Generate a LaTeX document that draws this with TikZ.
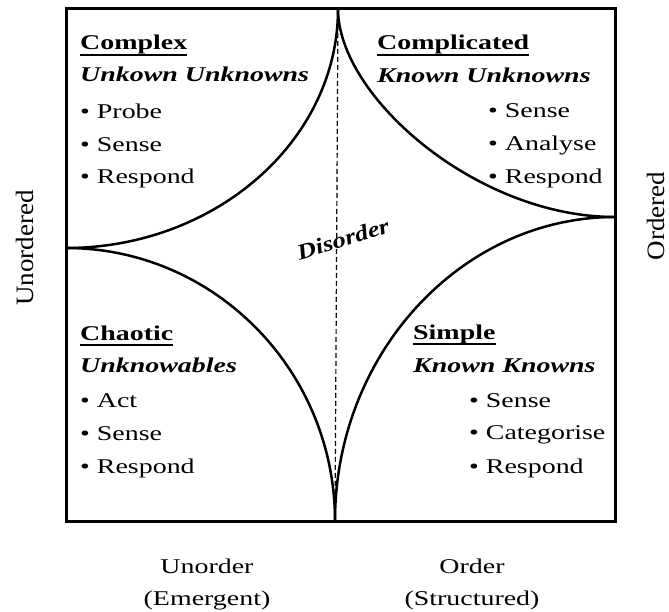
\documentclass[tikz,border=0pt]{standalone}
\usepackage{fontspec}
\setmainfont{Liberation Serif}[FakeStretch=1.33]
\newfontfamily\sidefont{Liberation Serif}[FakeStretch=1.08]
\newfontfamily\disfont{Liberation Serif}[FakeStretch=1.2]
\begin{document}
\begin{tikzpicture}[x=1pt,y=-1pt,
  txt/.style={inner sep=0pt, anchor=base west, font=\fontsize{21}{25}\selectfont},
  head/.style={txt, font=\fontsize{21}{25}\selectfont\bfseries},
  sub/.style={txt, font=\fontsize{21}{25}\selectfont\bfseries\itshape},
  axlab/.style={inner sep=0pt, anchor=base, font=\fontsize{21}{25}\selectfont},
  sidelab/.style={inner sep=0pt, anchor=base, rotate=90, font=\sidefont\fontsize{25}{30}\selectfont},
  frame/.style={line width=3pt},
  curve/.style={line width=2.5pt},
  uline/.style={line width=2.4pt},
  divider/.style={line width=1.2pt, dash pattern=on 5pt off 3pt}]
\useasboundingbox (0,0) rectangle (669,612);

% frame
\draw[frame] (66,9) rectangle (615,521);

% cusps
\coordinate (T) at (338,9);
\coordinate (L) at (66,248);
\coordinate (R) at (615,217);
\coordinate (B) at (335,521);

% dashed divider
\draw[divider] (T) -- (B);

% boundary curves
\draw[curve] (T) .. controls (338,141) and (215,248) .. (L);
\draw[curve] (T) .. controls (338,96) and (476,217) .. (R);
\draw[curve] (L) .. controls (215,248) and (335,371) .. (B);
\draw[curve] (R) .. controls (461,217) and (335,354) .. (B);

% Complex
\node[head] (cx) at (80,50) {Complex};
\draw[uline] ([yshift=-5pt]cx.base west) -- ([yshift=-5pt]cx.base east);
\node[sub] (cxs) at (80,82) {Unkown Unknowns};
\node[txt] (cx1) at (80,119) {\textbullet\ Probe};
\node[txt] (cx2) at (80,152) {\textbullet\ Sense};
\node[txt] (cx3) at (80,184) {\textbullet\ Respond};

% Complicated
\node[head] (cd) at (377,50) {Complicated};
\draw[uline] ([yshift=-5pt]cd.base west) -- ([yshift=-5pt]cd.base east);
\node[sub] (cds) at (377,83) {Known Unknowns};
\node[txt] (cd1) at (488,118) {\textbullet\ Sense};
\node[txt] (cd2) at (488,151) {\textbullet\ Analyse};
\node[txt] (cd3) at (488,184) {\textbullet\ Respond};

% Chaotic
\node[head] (ch) at (80,340) {Chaotic};
\draw[uline] ([yshift=-5pt]ch.base west) -- ([yshift=-5pt]ch.base east);
\node[sub] (chs) at (80,372) {Unknowables};
\node[txt] (ch1) at (80,407) {\textbullet\ Act};
\node[txt] (ch2) at (80,440) {\textbullet\ Sense};
\node[txt] (ch3) at (80,473) {\textbullet\ Respond};

% Simple
\node[head] (sp) at (413,339) {Simple};
\draw[uline] ([yshift=-5pt]sp.base west) -- ([yshift=-5pt]sp.base east);
\node[sub] (sps) at (413,372) {Known Knowns};
\node[txt] (sp1) at (469,407) {\textbullet\ Sense};
\node[txt] (sp2) at (469,439) {\textbullet\ Categorise};
\node[txt] (sp3) at (469,473) {\textbullet\ Respond};

% Disorder
\node[inner sep=0pt, rotate=17, font=\disfont\fontsize{22}{26}\selectfont\bfseries\itshape] (dis) at (343,239) {Disorder};

% axis labels
\node[axlab] (ux) at (207,573) {Unorder};
\node[axlab] (ux2) at (207,605) {(Emergent)};
\node[axlab] (ox) at (472,573) {Order};
\node[axlab] (ox2) at (472,605) {(Structured)};
\node[sidelab] (uy) at (33,248) {Unordered};
\node[sidelab] (oy) at (664,216) {Ordered};
\end{tikzpicture}
\end{document}
